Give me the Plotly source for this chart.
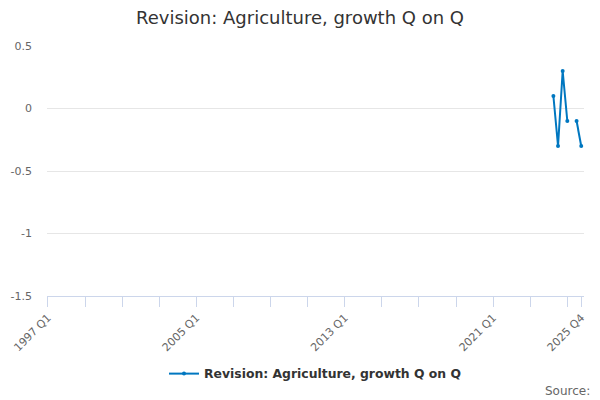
import plotly.graph_objects as go

# quarters shown on the category axis, 1997 Q1 .. 2025 Q4
years = list(range(1997, 2026))
quarters = [f"{y} Q{q}" for y in years for q in range(1, 5)]

# only the latest quarters carry a revision value
recent_quarters = ["2024 Q2", "2024 Q3", "2024 Q4", "2025 Q1", "2025 Q2", "2025 Q3", "2025 Q4"]
recent_values = [0.1, -0.3, 0.3, -0.1, None, -0.1, -0.3]

tick_quarters = quarters[::8] + ["2025 Q4"]
label_quarters = ["1997 Q1", "2005 Q1", "2013 Q1", "2021 Q1", "2025 Q4"]

y_ticks = [0.5, 0, -0.5, -1, -1.5]
y_labels = ["0.5", "0", "-0.5", "-1", "-1.5"]

series_name = "Revision: Agriculture, growth Q on Q"
line_color = "#0077c0"

fig = go.Figure()
fig.add_trace(go.Scatter(
    x=recent_quarters, y=recent_values, name=series_name,
    mode="lines+markers",
    line=dict(color=line_color, width=2),
    marker=dict(color=line_color, size=4),
    connectgaps=False,
    showlegend=True))

fig.update_layout(
    width=600, height=400,
    margin=dict(l=47, r=16, t=46, b=103),
    paper_bgcolor="white", plot_bgcolor="white",
    font=dict(family="DejaVu Sans", color="#666666", size=11),
    title=dict(text=series_name, x=0.5, xanchor="center", y=0.955, yanchor="middle",
               font=dict(size=18, color="#333333")),
    showlegend=True,
    legend=dict(orientation="h", x=0.5, xanchor="center", y=-0.307, yanchor="middle",
                font=dict(size=12.4, color="#333333", weight="bold")),
    annotations=[dict(text="Source:", xref="paper", yref="paper", x=1.015, y=-0.38,
                      xanchor="right", yanchor="middle", showarrow=False,
                      font=dict(size=12, color="#666666"))],
)

fig.update_xaxes(
    type="category", categoryorder="array", categoryarray=quarters,
    range=[-0.2, 115.6],
    tickmode="array", tickvals=tick_quarters,
    ticktext=[q if q in label_quarters else "" for q in tick_quarters],
    tickangle=-45, ticks="outside", ticklen=10, tickcolor="#ccd6eb",
    showline=True, linecolor="#ccd6eb", linewidth=1,
    showgrid=False, zeroline=False,
    tickfont=dict(size=11, color="#666666"))

fig.update_yaxes(
    range=[-1.5, 0.5],
    tickmode="array", tickvals=y_ticks, ticktext=y_labels,
    showgrid=True, gridcolor="#e6e6e6", zeroline=False,
    ticks="", ticklabelstandoff=14,
    tickfont=dict(size=11, color="#666666"))

# the page body has a default margin, drop it so the figure sits at 0,0
fig.write_html("out.html", config={"displayModeBar": False},
               post_script="document.body.style.margin = '0';")
